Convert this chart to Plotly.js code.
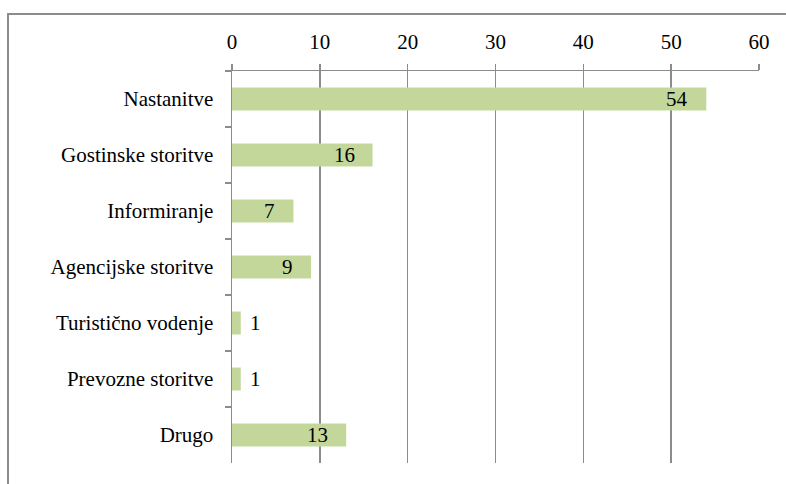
<!DOCTYPE html>
<html>
<head>
<meta charset="utf-8">
<script src="https://cdn.plot.ly/plotly-3.0.1.min.js"></script>
<style>html,body{margin:0;padding:0;background:#fff;}#chart{width:786px;height:484px;}</style>
</head>
<body>
<div id="chart"></div>
<script>
const categories = ["Nastanitve", "Gostinske storitve", "Informiranje", "Agencijske storitve", "Turistično vodenje", "Prevozne storitve", "Drugo"];
const values = [54, 16, 7, 9, 1, 1, 13];
const xTicks = [0, 10, 20, 30, 40, 50, 60];

const mkFont = () => ({family: "Liberation Serif", size: 21, color: "#000"});
const gray = "#8c8c8c";

const W = 786, H = 484;
const m = {l: 232, r: 27, t: 71, b: 21};
const pw = W - m.l - m.r, ph = H - m.t - m.b;
const px = v => (v - m.l) / pw;
const py = v => (H - m.b - v) / ph;

const annotations = values.map((v, i) => {
  const inside = v >= 5;
  return {
    x: v, y: categories[i], xref: "x", yref: "y",
    text: String(v), showarrow: false,
    xanchor: inside ? "right" : "left",
    xshift: inside ? -16 : 7,
    font: mkFont()
  };
});

const trace = {
  type: "bar", orientation: "h",
  x: values, y: categories,
  marker: {color: "#C4D79B"},
  hoverinfo: "none"
};

const layout = {
  width: W, height: H,
  margin: m,
  paper_bgcolor: "#fff", plot_bgcolor: "#fff",
  font: mkFont(),
  showlegend: false,
  bargap: 0.59,
  xaxis: {
    side: "top", range: [0, 60], tickvals: xTicks, ticktext: xTicks.map(String),
    showgrid: true, gridcolor: gray, gridwidth: 1.5,
    showline: true, linecolor: gray, linewidth: 1.5,
    ticks: "outside", ticklen: 6, tickcolor: gray, tickwidth: 1.5,
    ticklabelstandoff: 6,
    zeroline: false, tickfont: mkFont(), fixedrange: true
  },
  yaxis: {
    type: "category", autorange: "reversed",
    showgrid: false, showline: true, linecolor: gray, linewidth: 1.5,
    ticks: "outside", ticklen: 6, tickcolor: gray, tickwidth: 1.5,
    tickson: "boundaries", ticklabelstandoff: 13,
    tickfont: mkFont(), fixedrange: true
  },
  annotations: annotations,
  shapes: [{
    type: "rect", xref: "paper", yref: "paper",
    x0: px(8), x1: px(820), y0: py(520), y1: py(14),
    line: {color: "#8c8c8c", width: 2}, fillcolor: "rgba(0,0,0,0)", layer: "above"
  }]
};

Plotly.newPlot("chart", [trace], layout, {staticPlot: true, displayModeBar: false});
</script>
</body>
</html>
